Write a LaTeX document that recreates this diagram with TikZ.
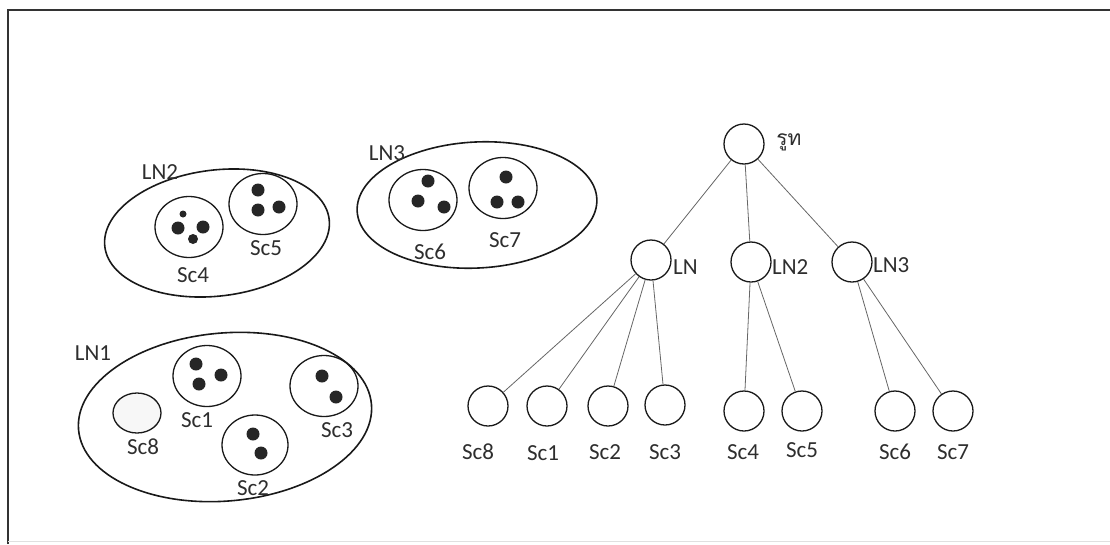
\documentclass[tikz,border=0pt]{standalone}
\usepackage{fontspec}
\setmainfont{Carlito}
\newfontfamily\thaifont[Script=Thai]{Loma}
\usetikzlibrary{shapes.geometric}

\begin{document}
\begin{tikzpicture}[x=1pt,y=-1pt,
  lbl/.style={font=\fontsize{23}{26}\selectfont, text=black!82, inner sep=0pt},
  group/.style={draw=black!90, line width=1.6pt, ellipse, inner sep=0pt},
  cell/.style={draw=black!90, line width=1.3pt, ellipse, inner sep=0pt,
               minimum width=68pt, minimum height=61pt},
  tnode/.style={draw=black!90, line width=1.3pt, circle, inner sep=0pt, minimum size=40pt},
  dot/.style={circle, fill=black!85, inner sep=0pt, minimum size=13pt},
  link/.style={draw=black!60, line width=0.8pt}]

\useasboundingbox (0,0) rectangle (1110,544);

% frame
\draw[line width=2pt, draw=black!80] (8,544) -- (8,10) -- (1110,10);
\draw[line width=1pt, draw=black!12] (8,541) -- (1110,541);

% ---------- group LN2 ----------
\node[group, minimum width=226pt, minimum height=126pt, rotate=7] (g2) at (217,233) {};
\node[lbl] (g2l) at (160,172) {LN2};
\node[cell] (c4) at (189,227) {};
\node[dot, minimum size=7pt] (d41) at (183,214) {};
\node[dot] (d42) at (178,228) {};
\node[dot] (d43) at (203,227) {};
\node[dot, minimum size=10pt] (d44) at (193,239) {};
\node[lbl] (c4l) at (193,275) {Sc4};
\node[cell] (c5) at (263,204) {};
\node[dot] (d51) at (258,190) {};
\node[dot] (d52) at (258,210) {};
\node[dot] (d53) at (279,207) {};
\node[lbl] (c5l) at (266,248) {Sc5};

% ---------- group LN3 ----------
\node[group, minimum width=240pt, minimum height=126pt, rotate=3] (g3) at (477,205) {};
\node[lbl] (g3l) at (387,153) {LN3};
\node[cell] (c6) at (423,200) {};
\node[dot] (d61) at (428,181) {};
\node[dot] (d62) at (418,201) {};
\node[dot] (d63) at (444,207) {};
\node[lbl] (c6l) at (430,252) {Sc6};
\node[cell] (c7) at (503,188) {};
\node[dot] (d71) at (506,177) {};
\node[dot] (d72) at (497,202) {};
\node[dot] (d73) at (518,202) {};
\node[lbl] (c7l) at (505,240) {Sc7};

% ---------- group LN1 ----------
\node[group, minimum width=294pt, minimum height=168pt, rotate=5] (g1) at (225,417) {};
\node[lbl] (g1l) at (93,353) {LN1};
\node[draw=black!90, line width=1.3pt, ellipse, inner sep=0pt, fill=black!3,
      minimum width=48pt, minimum height=40pt] (c8) at (137,413) {};
\node[lbl] (c8l) at (143,447) {Sc8};
\node[cell] (c1) at (207,376) {};
\node[dot] (d11) at (196,364) {};
\node[dot] (d12) at (199,384) {};
\node[dot] (d13) at (221,375) {};
\node[lbl] (c1l) at (197,420) {Sc1};
\node[cell, minimum width=66pt, minimum height=60pt] (c2) at (255,445) {};
\node[dot] (d21) at (253,434) {};
\node[dot] (d22) at (261,453) {};
\node[lbl] (c2l) at (253,488) {Sc2};
\node[cell] (c3) at (324,386) {};
\node[dot] (d31) at (322,376) {};
\node[dot] (d32) at (336,397) {};
\node[lbl] (c3l) at (337,430) {Sc3};

% ---------- tree ----------
\node[tnode] (root) at (744,144) {};
\node[lbl, font=\thaifont\fontsize{21}{24}\selectfont] (rootl) at (789,142) {รูท};
\node[tnode] (ln)  at (651,260) {};
\node[lbl, anchor=west] (lnl)  at (673,267) {LN};
\node[tnode] (ln2) at (751,262) {};
\node[lbl, anchor=west] (ln2l) at (772,267) {LN2};
\node[tnode] (ln3) at (852,262) {};
\node[lbl, anchor=west] (ln3l) at (873,265) {LN3};

\node[tnode] (t8) at (488,406) {};
\node[tnode] (t1) at (547,406) {};
\node[tnode] (t2) at (608,406) {};
\node[tnode] (t3) at (665,405) {};
\node[tnode] (t4) at (744,411) {};
\node[tnode] (t5) at (802,411) {};
\node[tnode] (t6) at (895,411) {};
\node[tnode] (t7) at (953,411) {};

\node[lbl] (t8l) at (478,452) {Sc8};
\node[lbl] (t1l) at (543,453) {Sc1};
\node[lbl] (t2l) at (605,452) {Sc2};
\node[lbl] (t3l) at (665,452) {Sc3};
\node[lbl] (t4l) at (743,452) {Sc4};
\node[lbl] (t5l) at (802,450) {Sc5};
\node[lbl] (t6l) at (895,452) {Sc6};
\node[lbl] (t7l) at (953,452) {Sc7};

\draw[link] (root) -- (ln);
\draw[link] (root) -- (ln2);
\draw[link] (root) -- (ln3);
\draw[link] (ln) -- (t8);
\draw[link] (ln) -- (t1);
\draw[link] (ln) -- (t2);
\draw[link] (ln) -- (t3);
\draw[link] (ln2) -- (t4);
\draw[link] (ln2) -- (t5);
\draw[link] (ln3) -- (t6);
\draw[link] (ln3) -- (t7);
\end{tikzpicture}
\end{document}
